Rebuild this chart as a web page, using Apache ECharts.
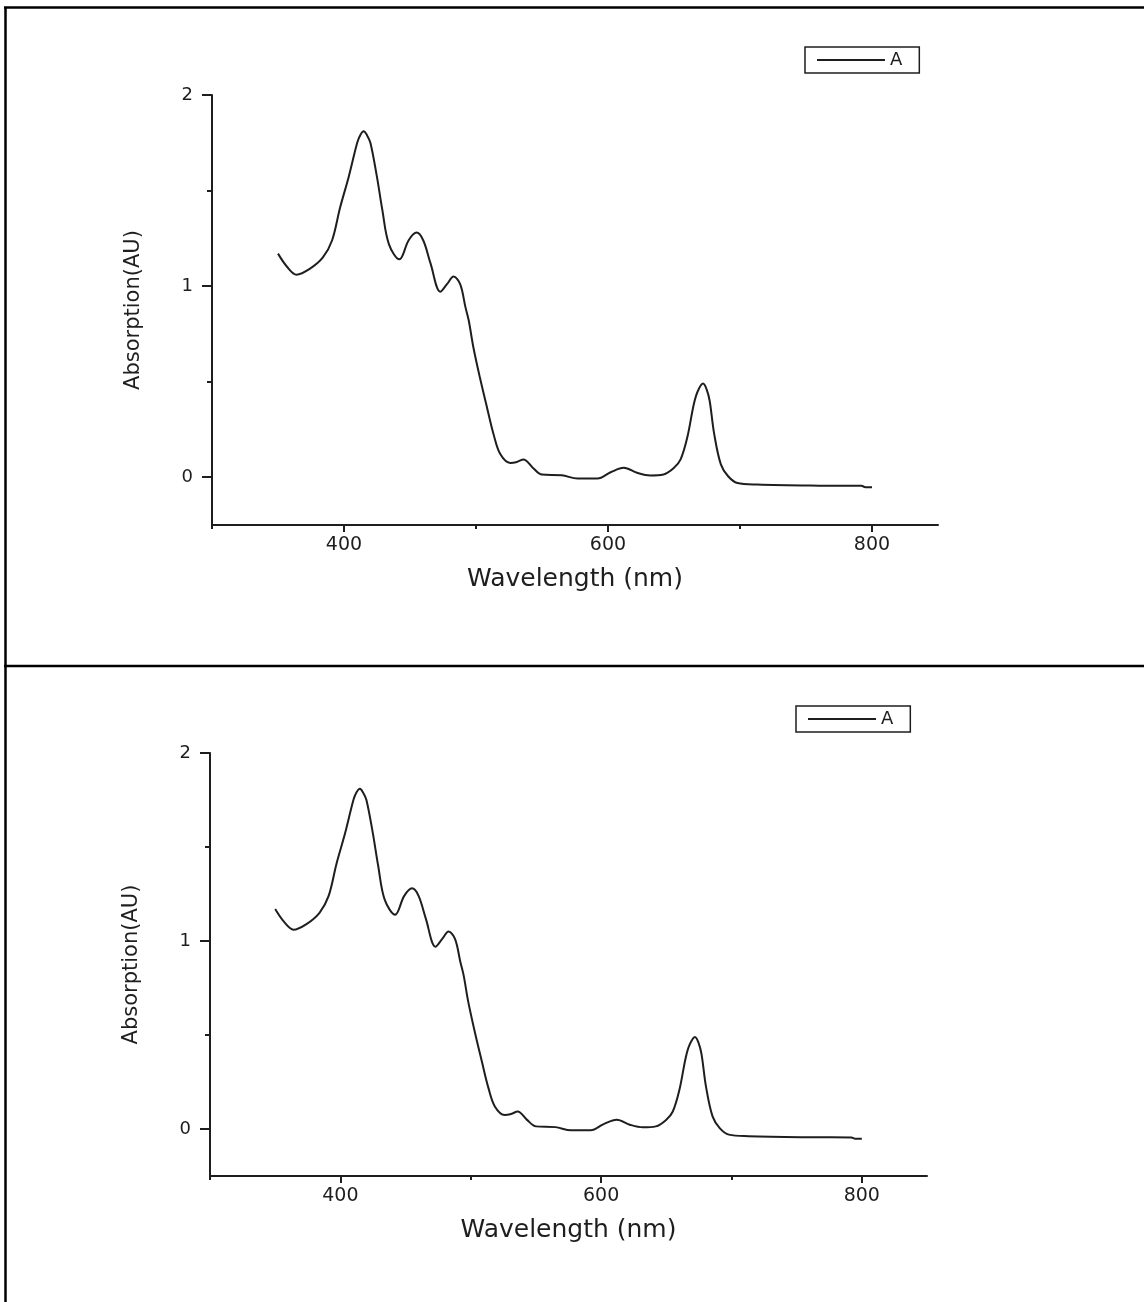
<!DOCTYPE html>
<html>
<head>
<meta charset="utf-8">
<script src="https://cdn.jsdelivr.net/npm/echarts@6/dist/echarts.min.js"></script>
<style>
  html, body { margin: 0; padding: 0; background: #fff; }
  #main { width: 1144px; height: 1302px; }
</style>
</head>
<body>
<div id="main"></div>
<script>
// spectrum (both panels show the same trace)
var wavelength = [350, 357, 364, 374, 384, 391, 397, 403.5, 410, 412.3, 415, 417.4, 420, 425, 429, 434,
  442, 449, 455, 460, 465.5, 473, 478, 483, 488, 492, 494.5, 498, 503, 508.5, 513.5, 518.5, 526,
  531, 536, 543, 550, 565, 577, 592, 602, 612, 622, 632, 642, 650, 655, 660, 665, 668, 672, 674.7,
  677, 680.5, 685.5, 691, 698, 713, 760, 792, 795, 800];
var absorption = [1.17, 1.10, 1.06, 1.09, 1.15, 1.24, 1.41, 1.57, 1.75, 1.79, 1.81, 1.79, 1.75, 1.57, 1.40, 1.22,
  1.14, 1.24, 1.28, 1.24, 1.12, 0.97, 1.01, 1.05, 1.01, 0.89, 0.82, 0.68, 0.52, 0.36, 0.22, 0.12, 0.075,
  0.08, 0.093, 0.05, 0.014, 0.01, -0.007, -0.007, 0.026, 0.049, 0.023, 0.009, 0.014, 0.049, 0.093, 0.206, 0.382, 0.45, 0.49, 0.46,
  0.40, 0.224, 0.067, 0.005, -0.03, -0.038, -0.044, -0.045, -0.052, -0.052];

var xMajor = [400, 600, 800];
var xMinor = [300, 500, 700];
var yMajor = [0, 1, 2];
var yMinor = [0.5, 1.5];

var seriesName = 'A';
var xName = 'Wavelength (nm)';
var yName = 'Absorption(AU)';

var ink = '#1e1e1e';
var font = 'DejaVu Sans';

var points = wavelength.map(function (w, i) { return [w, absorption[i]]; });

var chart = echarts.init(document.getElementById('main'));

var grids = [
  { left: 212, top: 95, right: 206, bottom: 777 },
  { left: 210, top: 753, right: 217, bottom: 126 }
];

function majorX(gi) {
  return {
    type: 'value', gridIndex: gi, position: 'bottom', min: 300, max: 850,
    name: xName, nameLocation: 'middle', nameGap: 42,
    nameTextStyle: { fontFamily: font, fontSize: 25, color: ink },
    axisLine: { onZero: false, lineStyle: { color: ink, width: 2 } },
    axisTick: { show: true, customValues: xMajor, length: 7, lineStyle: { color: ink, width: 2 } },
    axisLabel: { customValues: xMajor, fontFamily: font, fontSize: 19, color: ink, margin: 11 },
    splitLine: { show: false }
  };
}
function minorX(gi) {
  return {
    type: 'value', gridIndex: gi, position: 'bottom', min: 300, max: 850,
    axisLine: { show: false, onZero: false },
    axisTick: { show: true, customValues: xMinor, length: 4, lineStyle: { color: ink, width: 2 } },
    axisLabel: { show: false },
    splitLine: { show: false }
  };
}
function majorY(gi) {
  return {
    type: 'value', gridIndex: gi, position: 'left', min: -0.25, max: 2,
    name: yName, nameLocation: 'middle', nameGap: 68, nameRotate: 90,
    nameTextStyle: { fontFamily: font, fontSize: 21, color: ink },
    axisLine: { show: true, onZero: false, lineStyle: { color: ink, width: 2 } },
    axisTick: { show: true, customValues: yMajor, length: 10, lineStyle: { color: ink, width: 2 } },
    axisLabel: { customValues: yMajor, fontFamily: font, fontSize: 18, color: ink, margin: 19 },
    splitLine: { show: false }
  };
}
function minorY(gi) {
  return {
    type: 'value', gridIndex: gi, position: 'left', min: -0.25, max: 2,
    axisLine: { show: false, onZero: false },
    axisTick: { show: true, customValues: yMinor, length: 5, lineStyle: { color: ink, width: 2 } },
    axisLabel: { show: false },
    splitLine: { show: false }
  };
}
function legendAt(left, top) {
  return {
    data: [{ name: seriesName, icon: 'rect' }], left: left, top: top, orient: 'horizontal',
    itemWidth: 68, itemHeight: 2, padding: [4, 17, 4, 12],
    borderColor: ink, borderWidth: 1.5,
    itemStyle: { color: ink },
    textStyle: { fontFamily: font, fontSize: 18, color: ink },
    selectedMode: false
  };
}
function line(gi) {
  return {
    name: seriesName, type: 'line', xAxisIndex: gi * 2, yAxisIndex: gi * 2,
    data: points, smooth: 0.35, symbol: 'none',
    lineStyle: { color: ink, width: 2 }, itemStyle: { color: ink },
    silent: true
  };
}

chart.setOption({
  backgroundColor: '#fff',
  animation: false,
  grid: grids,
  xAxis: [majorX(0), minorX(0), majorX(1), minorX(1)],
  yAxis: [majorY(0), minorY(0), majorY(1), minorY(1)],
  legend: [legendAt(805, 47), legendAt(796, 706)],
  series: [line(0), line(1)],
  graphic: [
    { type: 'line', shape: { x1: 5.5, y1: 7.5, x2: 5.5, y2: 1302 }, style: { stroke: '#000', lineWidth: 2.5 } },
    { type: 'line', shape: { x1: 4, y1: 7.5, x2: 1144, y2: 7.5 }, style: { stroke: '#000', lineWidth: 2.5 } },
    { type: 'line', shape: { x1: 4, y1: 666, x2: 1144, y2: 666 }, style: { stroke: '#000', lineWidth: 2.5 } }
  ]
});
</script>
</body>
</html>
